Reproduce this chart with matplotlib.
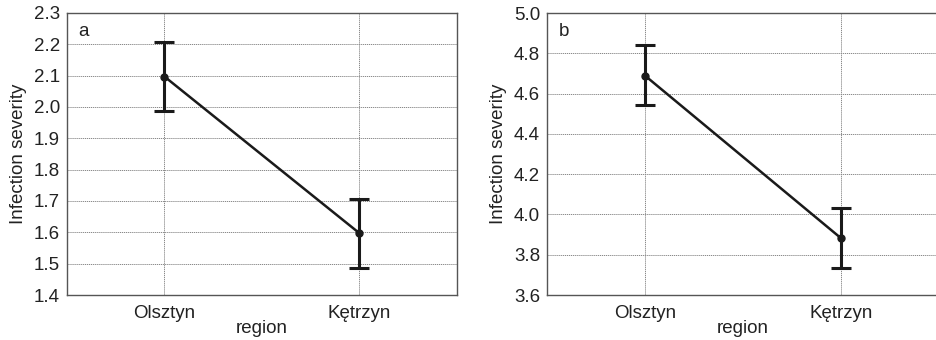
import matplotlib.pyplot as plt

plt.rcParams['font.family'] = ['Liberation Sans', 'DejaVu Sans']
plt.rcParams['font.size'] = 13.5

regions = ['Olsztyn', 'Kętrzyn']
# panel a
mean_a = [2.097, 1.597]
lo_a = [1.988, 1.486]
hi_a = [2.207, 1.706]
# panel b
mean_b = [4.689, 3.882]
lo_b = [4.543, 3.734]
hi_b = [4.841, 4.031]

fig = plt.figure(figsize=(9.37, 3.4), dpi=100)
ax1 = fig.add_axes([67 / 937, 45 / 340, 390 / 937, 282 / 340])
ax2 = fig.add_axes([547 / 937, 45 / 340, 392 / 937, 282 / 340])


def panel(ax, mean, lo, hi, ylim, step, letter, xmax):
    x = list(range(len(regions)))
    err = [[m - l for m, l in zip(mean, lo)], [h - m for m, h in zip(mean, hi)]]
    ax.plot(x, mean, color='#1a1a1a', lw=1.8, marker='o', ms=5, zorder=3)
    ax.errorbar(x, mean, yerr=err, fmt='none', ecolor='#1a1a1a', elinewidth=2.2,
                capsize=7, capthick=2.2, zorder=3)
    ax.set_xlim(-0.5, xmax)
    ax.set_ylim(*ylim)
    n = round((ylim[1] - ylim[0]) / step)
    ax.set_yticks([round(ylim[0] + i * step, 2) for i in range(n + 1)])
    ax.yaxis.set_major_formatter(plt.FormatStrFormatter('%.1f'))
    ax.set_xticks(x)
    ax.set_xticklabels(regions)
    ax.grid(True, color='#888888', linestyle=(0, (1.2, 0.8)), linewidth=0.7)
    ax.set_axisbelow(True)
    ax.tick_params(length=0, pad=5, labelcolor='#222222')
    ax.tick_params(axis='x', pad=7)
    for s in ax.spines.values():
        s.set_color('#555555')
        s.set_linewidth(1)
    ax.set_xlabel('region', labelpad=-1, color='#222222')
    ax.set_ylabel('Infection severity', labelpad=5, color='#222222')
    ax.text(0.03, 0.965, letter, transform=ax.transAxes, ha='left', va='top',
            color='#222222')


panel(ax1, mean_a, lo_a, hi_a, (1.4, 2.3), 0.1, 'a', 1.5)
panel(ax2, mean_b, lo_b, hi_b, (3.6, 5.0), 0.2, 'b', 1.5)

fig.savefig('out.png', dpi=100)
